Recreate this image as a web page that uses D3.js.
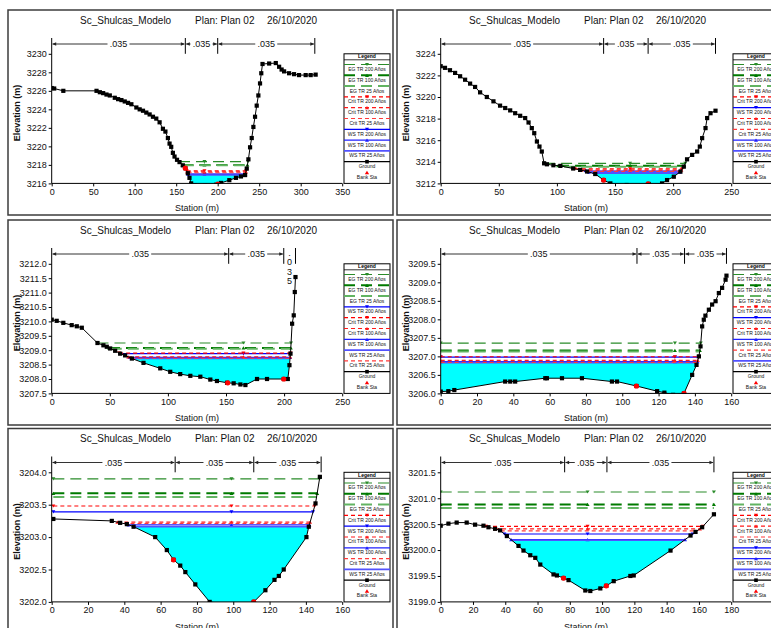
<!DOCTYPE html>
<html>
<head>
<meta charset="utf-8">
<script src="https://cdn.jsdelivr.net/npm/d3@7"></script>
<style>
  body { margin: 0; background: #fff; }
  svg { display: block; font-family: "Liberation Sans", Arial, sans-serif; }
</style>
</head>
<body>
<svg id="chart" width="771" height="628"></svg>
<script>
// profile keys, in the order the levels arrays use
const profiles = ['EG200', 'EG100', 'EG25', 'Crit200', 'Crit100', 'Crit25', 'WS200', 'WS100', 'WS25'];

// ---- section 1 ----
const p1Ground = [[0,3226.3],[3,3226.25],[14,3226.0],[54,3226.0],[58,3225.85],[62,3225.75],[66,3225.6],[70,3225.5],[76,3225.25],[80,3225.1],[84,3225.0],[88,3224.85],[92,3224.7],[96,3224.55],[102,3224.2],[106,3224.0],[110,3223.85],[114,3223.65],[118,3223.45],[122,3223.2],[126,3223.0],[130,3222.6],[134,3221.9],[137,3221.6],[140,3220.9],[142,3220.3],[144,3219.95],[146,3219.3],[148,3218.9],[151,3218.55],[154,3218.3],[158,3217.95],[161,3217.65],[164,3217.1],[166,3216.6],[168,3216.0],[172,3215.8],[185,3215.75],[198,3215.85],[204,3216.05],[214,3216.35],[222,3216.6],[228,3216.75],[233,3216.9],[235,3217.6],[237,3218.6],[239,3219.9],[241,3220.9],[243,3222.1],[245,3223.2],[247,3224.4],[249,3225.5],[251,3226.8],[252.5,3227.9],[254,3228.9],[262,3228.95],[270,3229.0],[274,3228.6],[277,3228.3],[280,3228.1],[286,3227.9],[292,3227.8],[298,3227.7],[306,3227.7],[312,3227.7],[318,3227.75]];
const p1Banks = [161, 200];
const p1N = [0, 161, 200, 317];
const p1Levels = [3218.35, 3218.0, 3217.95, 3217.35, 3217.25, 3217.15, 3217.0, 3216.97, 3216.9];
const p1Legend = ['EG200','EG100','EG25','Crit200','Crit100','Crit25','WS200','WS100','WS25'];
const p1XTicks = [0, 50, 100, 150, 200, 250, 300, 350];
const p1YTicks = [3216, 3218, 3220, 3222, 3224, 3226, 3228, 3230];
const p1Mid = 184;

// ---- section 2 ----
const p2Ground = [[0,3222.85],[3.7,3222.7],[8,3222.48],[12.4,3222.23],[16.7,3221.92],[21,3221.6],[25.3,3221.24],[29.6,3220.93],[33.9,3220.43],[39.7,3220.0],[45.4,3219.6],[51.1,3219.2],[55.5,3218.98],[59.8,3218.76],[64.1,3218.5],[68.4,3218.26],[72.7,3218.05],[75.6,3217.64],[78.4,3217.12],[80.5,3216.65],[82.8,3215.88],[85,3215.41],[87,3214.95],[89,3213.86],[91.4,3213.77],[97,3213.68],[103,3213.62],[114,3213.38],[120,3213.25],[126,3213.1],[133,3212.87],[140.2,3212.31],[146,3212.0],[160,3211.85],[179,3211.95],[190.5,3212.0],[194.8,3212.31],[200.6,3212.62],[206.3,3213.09],[209.2,3213.55],[212,3214.23],[216.4,3214.64],[220.7,3214.95],[223,3215.41],[225,3216.19],[227.9,3217.12],[229.3,3218.05],[232.2,3218.5],[236.5,3218.73]];
const p2Banks = [140.2, 178.5];
const p2N = [0, 140.2, 178.5, 236.5];
const p2Levels = [3213.86, 3213.64, 3213.55, 3213.35, 3213.22, 3213.12, 3213.15, 3213.05, 3212.95];
const p2Legend = ['EG200','EG100','EG25','Crit200','WS200','Crit100','Crit25','WS100','WS25'];
const p2XTicks = [0, 50, 100, 150, 200, 250];
const p2YTicks = [3212, 3214, 3216, 3218, 3220, 3222, 3224];
const p2Mid = 163;

// ---- section 3 ----
const p3Ground = [[0,3210.06],[4.3,3210.02],[10,3209.95],[17.2,3209.87],[21.6,3209.83],[25.9,3209.78],[39.4,3209.25],[44.5,3209.17],[47.4,3209.12],[50.3,3209.06],[54.6,3208.98],[58.9,3208.88],[63.2,3208.82],[69,3208.71],[79,3208.56],[93.4,3208.37],[102,3208.25],[110.6,3208.17],[119.3,3208.11],[127.9,3208.08],[136.5,3207.98],[142.2,3207.93],[150.9,3207.87],[156.6,3207.85],[162.4,3207.81],[166.7,3207.79],[176.7,3208.0],[185.3,3208.0],[199.7,3208.0],[203.2,3208.0],[204.6,3208.48],[205.5,3208.88],[206.9,3209.92],[208.3,3210.21],[209.2,3211.02],[209.8,3211.54]];
const p3Banks = [151.5, 199.7];
const p3N = [0, 152.3, 199.7, 209.8];
const p3Levels = [3209.25, 3209.08, 3209.05, 3208.9, 3208.77, 3208.72, 3208.88, 3208.75, 3208.71];
const p3Legend = ['EG200','EG100','EG25','WS200','Crit200','Crit100','WS100','WS25','Crit25'];
const p3XTicks = [0, 50, 100, 150, 200, 250];
const p3YTicks = [3207.5, 3208.0, 3208.5, 3209.0, 3209.5, 3210.0, 3210.5, 3211.0, 3211.5, 3212.0];
const p3Mid = 165;

// ---- section 4 ----
const p4Ground = [[0,3206.05],[4.2,3206.06],[7.5,3206.09],[35.5,3206.32],[38.3,3206.32],[41,3206.32],[57.6,3206.41],[58.5,3206.41],[66.8,3206.41],[77.8,3206.41],[94.3,3206.32],[97.1,3206.32],[107.8,3206.2],[119.2,3206.06],[123.2,3206.02],[128,3205.96],[134,3206.0],[138.5,3206.5],[140.9,3206.77],[142.2,3207.0],[143.1,3207.27],[144,3207.81],[144.9,3207.99],[145.8,3208.1],[147.7,3208.26],[149.5,3208.4],[151.4,3208.49],[153.2,3208.71],[155,3208.85],[156.9,3209.07],[157.4,3209.18]];
const p4Banks = [107.8, 134];
const p4N = [0, 108.1, 134.3, 157.4];
const p4Levels = [3207.36, 3207.16, 3207.13, 3206.99, 3206.89, 3206.84, 3206.98, 3206.86, 3206.83];
const p4Legend = ['EG200','EG100','EG25','Crit200','WS200','Crit100','WS100','Crit25','WS25'];
const p4XTicks = [0, 20, 40, 60, 80, 100, 120, 140, 160];
const p4YTicks = [3206.0, 3206.5, 3207.0, 3207.5, 3208.0, 3208.5, 3209.0, 3209.5];
const p4Mid = 129;

// ---- section 5 ----
const p5Ground = [[0.9,3203.28],[33.1,3203.25],[37.7,3203.22],[41.4,3203.2],[45.1,3203.16],[57,3203.0],[63.4,3202.8],[67.1,3202.65],[70.8,3202.56],[73.6,3202.46],[79.1,3202.27],[87,3202.0],[100,3201.95],[111.3,3202.0],[117.7,3202.18],[122.7,3202.34],[125.1,3202.4],[127.8,3202.5],[140.3,3203.0],[141.6,3203.16],[145.3,3203.52],[147.7,3203.93]];
const p5Banks = [67.1, 111.3];
const p5N = [0, 68, 111.3, 148.4];
const p5Levels = [3203.9, 3203.675, 3203.62, 3203.48, 3203.23, 3203.21, 3203.39, 3203.19, 3203.16];
const p5Legend = ['EG200','EG100','EG25','Crit200','WS200','Crit100','WS100','Crit25','WS25'];
const p5XTicks = [0, 20, 40, 60, 80, 100, 120, 140, 160];
const p5YTicks = [3202.0, 3202.5, 3203.0, 3203.5, 3204.0];
const p5Mid = 99;

// ---- section 6 ----
const p6Ground = [[0,3200.47],[4.8,3200.51],[9.9,3200.53],[16.1,3200.53],[21.3,3200.49],[26.5,3200.47],[29.6,3200.44],[33.7,3200.41],[36.8,3200.38],[41,3200.27],[48.2,3200.08],[51.3,3199.99],[55.5,3199.9],[58.6,3199.85],[61.7,3199.72],[69.9,3199.53],[72,3199.51],[76.1,3199.46],[79.2,3199.42],[89.6,3199.22],[92.7,3199.21],[98.9,3199.26],[102.6,3199.31],[107.2,3199.4],[117.5,3199.5],[119.6,3199.51],[142.4,3199.99],[154.8,3200.28],[157.9,3200.35],[162,3200.44],[169.3,3200.69]];
const p6Banks = [76.1, 102.6];
const p6N = [0, 76.8, 103, 169.3];
const p6Levels = [3201.12, 3200.88, 3200.81, 3200.455, 3200.41, 3200.37, 3200.31, 3200.2, 3200.19];
const p6Legend = ['EG200','EG100','EG25','Crit200','Crit100','Crit25','WS200','WS100','WS25'];
const p6XTicks = [0, 20, 40, 60, 80, 100, 120, 140, 160, 180];
const p6YTicks = [3199.0, 3199.5, 3200.0, 3200.5, 3201.0, 3201.5];
const p6Mid = 91;

const nValue = '.035';

// line styles for each profile
const styles = {
    EG200:   {name: 'EG TR 200 Años',   color: '#2a8c2a', width: 1.2, dash: '11,6', mark: 'down'},
    EG100:   {name: 'EG TR 100 Años',   color: '#007a00', width: 2,   dash: '11,6', mark: 'up'},
    EG25:    {name: 'EG TR 25 Años',    color: '#62b462', width: 2,   dash: '11,6', mark: 'none'},
    Crit200: {name: 'Crit TR 200 Años', color: '#ff0000', width: 1.2, dash: '4,3',  mark: 'down'},
    Crit100: {name: 'Crit TR 100 Años', color: '#ff1a1a', width: 1.2, dash: '4,3',  mark: 'up'},
    Crit25:  {name: 'Crit TR 25 Años',  color: '#ff3a3a', width: 1.2, dash: '4,3',  mark: 'none'},
    WS200:   {name: 'WS TR 200 Años',   color: '#0000ff', width: 1.2, dash: null,   mark: 'down'},
    WS100:   {name: 'WS TR 100 Años',   color: '#2020ff', width: 1.2, dash: null,   mark: 'up'},
    WS25:    {name: 'WS TR 25 Años',    color: '#5252ff', width: 1.6, dash: null,   mark: 'none'}
};
const markPath = {
    down: 'M-2,-1.6L2,-1.6L0,1.6Z',
    up: 'M-2,1.6L2,1.6L0,-1.6Z'
};

const svg = d3.select('#chart');
const defs = svg.append('defs');

// layout inside one panel
const PL = 43.7, PW = 290.5, PT = 43.8, PB = 173.4, NV = 28;

function interp(a, b, lv) {
    return a[0] + (b[0] - a[0]) * (lv - a[1]) / (b[1] - a[1]);
}

// where a level meets the ground on both sides of the thalweg
function wetExtent(ground, level) {
    const iMin = d3.minIndex(ground, d => d[1]);
    let i = iMin;
    while (i > 0 && ground[i - 1][1] < level) i--;
    let j = iMin;
    while (j < ground.length - 1 && ground[j + 1][1] < level) j++;
    const left = i === 0 ? ground[0][0] : interp(ground[i - 1], ground[i], level);
    const right = j === ground.length - 1 ? ground[j][0] : interp(ground[j], ground[j + 1], level);
    return {left, right, i, j};
}

function groundAt(ground, st) {
    for (let k = 0; k < ground.length - 1; k++) {
        const a = ground[k], b = ground[k + 1];
        if (st >= a[0] && st <= b[0]) return a[1] + (b[1] - a[1]) * (st - a[0]) / (b[0] - a[0]);
    }
    return ground[ground.length - 1][1];
}

function styleLine(sel, s) {
    sel.attr('stroke', s.color).attr('stroke-width', s.width).attr('fill', 'none');
    if (s.dash) sel.attr('stroke-dasharray', s.dash);
}

function drawPanel(k, px, py, ground, banks, nBreaks, levels, legendOrder, xTicks, yTicks, yFmt, mid) {
    const g = svg.append('g');

    // frame
    g.append('rect')
        .attr('x', px).attr('y', py)
        .attr('width', 385).attr('height', 205)
        .attr('fill', 'none')
        .attr('stroke', '#3c3c3c')
        .attr('stroke-width', 1.5);

    // title
    const title = [['Sc_Shulcas_Modelo', 72], ['Plan: Plan 02', 187], ['26/10/2020', 259]];
    title.forEach(t => {
        g.append('text')
            .attr('x', px + t[1]).attr('y', py + 13.8)
            .attr('font-size', 10).attr('fill', '#111')
            .text(t[0]);
    });

    const x = d3.scaleLinear()
        .domain([xTicks[0], xTicks[xTicks.length - 1]])
        .range([px + PL, px + PL + PW]);
    const y = d3.scaleLinear()
        .domain([yTicks[0], yTicks[yTicks.length - 1]])
        .range([py + PB, py + PT]);

    defs.append('clipPath').attr('id', 'clip' + k)
        .append('rect')
        .attr('x', x.range()[0]).attr('y', py + NV)
        .attr('width', PW).attr('height', PB - NV);

    const plot = g.append('g').attr('clip-path', `url(#clip${k})`);

    // water fill under the lowest water surface
    const wsLevel = levels[profiles.indexOf('WS25')];
    const ext = wetExtent(ground, wsLevel);
    let wet = ground.slice(ext.i, ext.j + 1);
    if (ext.i > 0) wet = [[ext.left, wsLevel]].concat(wet);
    if (ext.j < ground.length - 1) wet = wet.concat([[ext.right, wsLevel]]);
    plot.append('path')
        .datum(wet)
        .attr('fill', '#00ffff')
        .attr('d', d3.area().x(d => x(d[0])).y0(d => y(d[1])).y1(y(wsLevel)));

    // energy, water surface and critical lines
    const drawOrder = ['EG200', 'EG100', 'EG25', 'WS200', 'WS100', 'WS25', 'Crit200', 'Crit100', 'Crit25'];
    drawOrder.forEach(key => {
        const s = styles[key];
        const lv = levels[profiles.indexOf(key)];
        const e = wetExtent(ground, lv);
        plot.append('line')
            .attr('x1', x(e.left)).attr('x2', x(e.right))
            .attr('y1', y(lv)).attr('y2', y(lv))
            .call(styleLine, s);
        if (s.mark !== 'none') {
            [e.left, mid, e.right].forEach(st => {
                plot.append('path')
                    .attr('d', markPath[s.mark])
                    .attr('transform', `translate(${x(st)},${y(lv)})`)
                    .attr('fill', s.color);
            });
        }
    });

    // ground
    plot.append('path')
        .datum(ground)
        .attr('fill', 'none')
        .attr('stroke', '#000')
        .attr('stroke-width', 1)
        .attr('d', d3.line().x(d => x(d[0])).y(d => y(d[1])));
    plot.selectAll('rect.gp')
        .data(ground)
        .enter().append('rect')
        .attr('class', 'gp')
        .attr('x', d => x(d[0]) - 2.1).attr('y', d => y(d[1]) - 2.1)
        .attr('width', 4.2).attr('height', 4.2)
        .attr('fill', '#000');

    // bank stations
    plot.selectAll('circle.bank')
        .data(banks)
        .enter().append('circle')
        .attr('class', 'bank')
        .attr('cx', d => x(d)).attr('cy', d => y(groundAt(ground, d)))
        .attr('r', 2.6)
        .attr('fill', '#ff0000');

    // axes
    const xAxis = d3.axisBottom(x).tickValues(xTicks).tickSize(3).tickPadding(2).tickFormat(d3.format('d'));
    const xg = g.append('g').attr('transform', `translate(0,${py + PB})`).call(xAxis);
    xg.select('.domain').remove();
    xg.selectAll('text').attr('font-size', 9).attr('font-family', '"Liberation Sans", Arial, sans-serif').attr('fill', '#111');

    const yAxis = d3.axisLeft(y).tickValues(yTicks).tickSize(3).tickPadding(2).tickFormat(d3.format(yFmt));
    const yg = g.append('g').attr('transform', `translate(${px + PL},0)`).call(yAxis);
    yg.select('.domain').remove();
    yg.selectAll('text').attr('font-size', 9).attr('font-family', '"Liberation Sans", Arial, sans-serif').attr('fill', '#111');

    g.append('line')
        .attr('x1', x.range()[0]).attr('x2', x.range()[1])
        .attr('y1', py + PB).attr('y2', py + PB)
        .attr('stroke', '#000');
    g.append('line')
        .attr('x1', px + PL).attr('x2', px + PL)
        .attr('y1', py + NV).attr('y2', py + PB)
        .attr('stroke', '#000');

    g.append('text')
        .attr('x', px + PL + PW / 2).attr('y', py + 201)
        .attr('text-anchor', 'middle')
        .attr('font-size', 9).attr('fill', '#111')
        .text('Station (m)');
    g.append('text')
        .attr('transform', `translate(${px + 12},${py + 103}) rotate(-90)`)
        .attr('text-anchor', 'middle')
        .attr('font-size', 9).attr('font-weight', 'bold').attr('fill', '#111')
        .text('Elevation (m)');

    // Manning's n values along the top
    const ny = py + 34;
    for (let s = 0; s < nBreaks.length - 1; s++) {
        const a = x(nBreaks[s]), b = x(nBreaks[s + 1]);
        g.append('line')
            .attr('x1', b).attr('x2', b)
            .attr('y1', py + NV).attr('y2', py + PT)
            .attr('stroke', '#000');
        const m = (a + b) / 2;
        if (b - a > 28) {
            g.append('line').attr('x1', a + 1).attr('x2', m - 11).attr('y1', ny).attr('y2', ny).attr('stroke', '#333');
            g.append('line').attr('x1', m + 11).attr('x2', b - 1).attr('y1', ny).attr('y2', ny).attr('stroke', '#333');
            g.append('path').attr('d', `M${a + 0.5},${ny}l4,-1.8v3.6Z`).attr('fill', '#222');
            g.append('path').attr('d', `M${b - 0.5},${ny}l-4,-1.8v3.6Z`).attr('fill', '#222');
            g.append('text')
                .attr('x', m).attr('y', ny + 3.2)
                .attr('text-anchor', 'middle')
                .attr('font-size', 9).attr('fill', '#111')
                .text(nValue);
        } else {
            nValue.split('').forEach((c, ci) => {
                g.append('text')
                    .attr('x', m).attr('y', ny + 2 + ci * 9.3)
                    .attr('text-anchor', 'middle')
                    .attr('font-size', 9).attr('fill', '#111')
                    .text(c);
            });
        }
    }

    // legend
    const lx = px + 336, lw = 46, ltop = py + PT;
    const lg = g.append('g');
    lg.append('rect')
        .attr('x', lx).attr('y', ltop)
        .attr('width', lw).attr('height', PB - PT)
        .attr('fill', '#fff').attr('stroke', '#000').attr('stroke-width', 1);
    lg.append('text')
        .attr('x', lx + lw / 2).attr('y', ltop + 4.6)
        .attr('text-anchor', 'middle')
        .attr('font-size', 5).attr('font-weight', 'bold')
        .text('Legend');
    lg.append('line')
        .attr('x1', lx).attr('x2', lx + lw)
        .attr('y1', ltop + 6).attr('y2', ltop + 6)
        .attr('stroke', '#000').attr('stroke-width', 0.8);
    const items = legendOrder.concat(['Ground', 'Bank']);
    items.forEach((key, i) => {
        const yy = py + 54.5 + 10.8 * i;
        const cx = lx + lw / 2;
        let label;
        if (key === 'Ground') {
            lg.append('line').attr('x1', lx).attr('x2', lx + lw).attr('y1', yy).attr('y2', yy).attr('stroke', '#000').attr('stroke-width', 1.2);
            lg.append('rect').attr('x', cx - 1.8).attr('y', yy - 1.8).attr('width', 3.6).attr('height', 3.6).attr('fill', '#000');
            label = 'Ground';
        } else if (key === 'Bank') {
            lg.append('path').attr('d', markPath.up).attr('transform', `translate(${cx},${yy}) scale(1.1)`).attr('fill', '#ff0000');
            label = 'Bank Sta';
        } else {
            const s = styles[key];
            lg.append('line').attr('x1', lx).attr('x2', lx + lw).attr('y1', yy).attr('y2', yy).call(styleLine, s);
            if (s.mark !== 'none') {
                lg.append('path').attr('d', markPath[s.mark]).attr('transform', `translate(${cx},${yy})`).attr('fill', s.color);
            }
            label = s.name;
        }
        lg.append('text')
            .attr('x', cx).attr('y', yy + 6.4)
            .attr('text-anchor', 'middle')
            .attr('font-size', 5).attr('fill', '#111')
            .text(label);
    });
}

drawPanel(1, 8, 10, p1Ground, p1Banks, p1N, p1Levels, p1Legend, p1XTicks, p1YTicks, 'd', p1Mid);
drawPanel(2, 397, 10, p2Ground, p2Banks, p2N, p2Levels, p2Legend, p2XTicks, p2YTicks, 'd', p2Mid);
drawPanel(3, 8, 220, p3Ground, p3Banks, p3N, p3Levels, p3Legend, p3XTicks, p3YTicks, '.1f', p3Mid);
drawPanel(4, 397, 220, p4Ground, p4Banks, p4N, p4Levels, p4Legend, p4XTicks, p4YTicks, '.1f', p4Mid);
drawPanel(5, 8, 428.5, p5Ground, p5Banks, p5N, p5Levels, p5Legend, p5XTicks, p5YTicks, '.1f', p5Mid);
drawPanel(6, 397, 428.5, p6Ground, p6Banks, p6N, p6Levels, p6Legend, p6XTicks, p6YTicks, '.1f', p6Mid);
</script>
</body>
</html>
